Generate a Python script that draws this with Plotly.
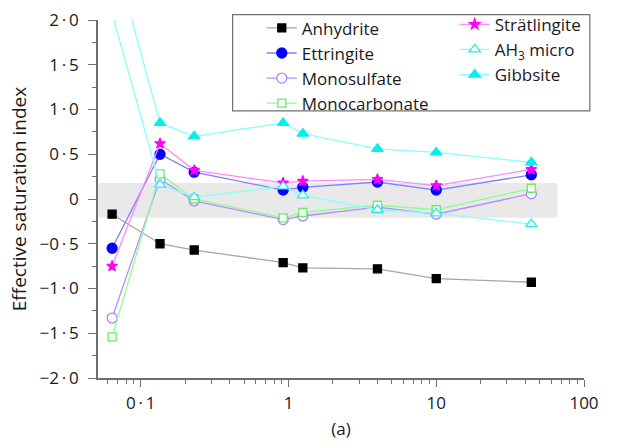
import math
import plotly.graph_objects as go

# Hydration time (days) and effective saturation index of each phase
time_days = [0.064, 0.135, 0.23, 0.92, 1.25, 4.0, 10.0, 44.0]
anhydrite = [-0.17, -0.50, -0.57, -0.71, -0.77, -0.78, -0.89, -0.93]
ettringite = [-0.55, 0.50, 0.30, 0.10, 0.13, 0.19, 0.10, 0.27]
monosulfate = [-1.33, 0.22, -0.02, -0.23, -0.19, -0.09, -0.17, 0.06]
monocarbonate = [-1.54, 0.28, 0.00, -0.21, -0.15, -0.07, -0.12, 0.12]
stratlingite = [-0.75, 0.62, 0.32, 0.18, 0.20, 0.22, 0.15, 0.33]
ah3_micro = [2.07, 0.16, 0.02, 0.14, 0.04, -0.12, -0.16, -0.28]
gibbsite = [2.80, 0.85, 0.70, 0.85, 0.73, 0.56, 0.52, 0.41]

# Equilibrium band (saturation index close to zero)
band_low, band_high = -0.21, 0.18
band_start, band_end = 0.0516, 66.0

DOT = "\u2009·\u2009"
y_ticks = [2.0, 1.5, 1.0, 0.5, 0.0, -0.5, -1.0, -1.5, -2.0]
y_labels = [f"2{DOT}0", f"1{DOT}5", f"1{DOT}0", f"0{DOT}5", "0",
            f"−0{DOT}5", f"−1{DOT}0", f"−1{DOT}5", f"−2{DOT}0"]
x_ticks = [0.1, 1, 10, 100]
x_labels = [f"0{DOT}1", "1", "10", "100"]
x_minor = [v * d for d in (0.01, 0.1, 1, 10) for v in range(2, 10) if 0.055 < v * d < 100]

FONT = "Open Sans"
AXIS_COLOR = "#6e6e6e"

series = [
    # name, values, line colour, symbol, marker fill, marker edge, size, legend
    ("Anhydrite", anhydrite, "#a6a6a6", "square", "#000000", "#000000", 8, "legend"),
    ("Ettringite", ettringite, "#7f7fff", "circle", "#0000ff", "#0000ff", 10, "legend"),
    ("Monosulfate", monosulfate, "#b98cff", "circle", "#ffffff", "#b280ff", 10, "legend"),
    ("Monocarbonate", monocarbonate, "#8cff8c", "square", "#ffffff", "#66ee66", 8, "legend"),
    ("Strätlingite", stratlingite, "#ff88ff", "star", "#ff00ff", "#ff00ff", 8, "legend2"),
    ("AH<sub>3</sub> micro", ah3_micro, "#88ffff", "triangle-up", "#ffffff", "#22eeee", 10, "legend2"),
    ("Gibbsite", gibbsite, "#88ffff", "triangle-up", "#00f0f0", "#00f0f0", 10, "legend2"),
]

fig = go.Figure()
for name, vals, lcol, sym, fill, edge, size, leg in series:
    fig.add_trace(go.Scatter(
        x=time_days, y=vals, name=name, mode="lines+markers",
        line=dict(color=lcol, width=1.3),
        marker=dict(symbol=sym, size=size, color=fill,
                    line=dict(color=edge, width=1.3)),
        legend=leg,
        cliponaxis=(name != "AH<sub>3</sub> micro"),
    ))

fig.add_shape(type="rect", xref="x", yref="y",
              x0=band_start, x1=band_end, y0=band_low, y1=band_high,
              fillcolor="#e9e9e9", line=dict(width=0), layer="below")

# Frame around the two legend columns
fig.add_shape(type="rect", xref="paper", yref="paper",
              x0=0.277, x1=1.012, y0=0.746, y1=1.015,
              line=dict(color="#707070", width=1.2), fillcolor="rgba(0,0,0,0)")

legend_style = dict(font=dict(family=FONT, size=17, color="#1a1a1a"),
                    bgcolor="rgba(0,0,0,0)", borderwidth=0,
                    xanchor="left", yanchor="top", tracegroupgap=0)

fig.update_layout(
    width=639, height=445,
    margin=dict(l=98, r=55, t=20, b=67, autoexpand=False),
    plot_bgcolor="white", paper_bgcolor="white",
    font=dict(family=FONT, size=17, color="#1a1a1a"),
    legend=dict(x=0.337, y=1.027, **legend_style),
    legend2=dict(x=0.734, y=1.037, **legend_style),
    xaxis=dict(
        type="log", range=[math.log10(band_start) - 0.002, 2],
        tickvals=x_ticks, ticktext=x_labels, automargin=False,
        ticks="outside", ticklen=7, tickwidth=1.2, tickcolor=AXIS_COLOR,
        minor=dict(tickvals=x_minor, ticks="outside", ticklen=4,
                   tickwidth=1.2, tickcolor=AXIS_COLOR),
        showline=True, linecolor=AXIS_COLOR, linewidth=1.5,
        showgrid=False, zeroline=False,
        tickfont=dict(size=17), ticklabelstandoff=2,
        title=dict(text="(a)", font=dict(size=17), standoff=10),
    ),
    yaxis=dict(
        range=[-2, 2], tickvals=y_ticks, ticktext=y_labels, automargin=False,
        ticks="outside", ticklen=8, tickwidth=1.2, tickcolor=AXIS_COLOR,
        minor=dict(dtick=0.25, tick0=0, ticks="outside", ticklen=4,
                   tickwidth=1.2, tickcolor=AXIS_COLOR),
        showline=True, linecolor=AXIS_COLOR, linewidth=1.5,
        showgrid=False, zeroline=False,
        tickfont=dict(size=17), ticklabelstandoff=6,
        title=dict(text="Effective saturation index", font=dict(size=19), standoff=8),
    ),
)

fig.write_html("out.html")
